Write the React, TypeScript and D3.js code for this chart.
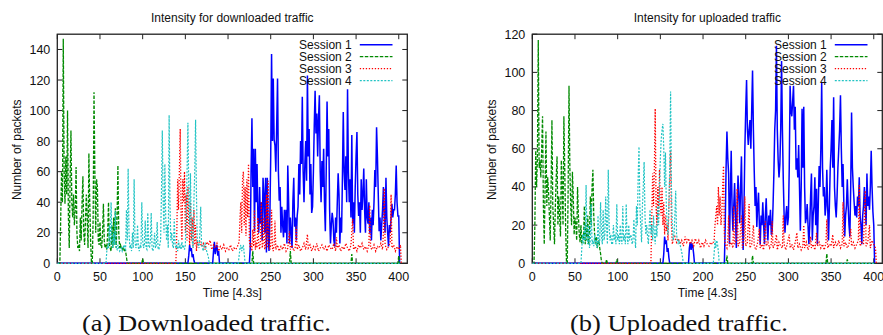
import React from 'react';
import * as d3 from 'd3';

type Pt = [number, number];

const xTicks = [0, 50, 100, 150, 200, 250, 300, 350, 400];
const downYTicks = [0, 20, 40, 60, 80, 100, 120, 140];
const upYTicks = [0, 20, 40, 60, 80, 100, 120];
const sessionNames = ['Session 1', 'Session 2', 'Session 3', 'Session 4'];
const titles = ['Intensity for downloaded traffic', 'Intensity for uploaded traffic'];
const captions = ['(a) Downloaded traffic.', '(b) Uploaded traffic.'];
const xLabel = 'Time [4.3s]';
const yLabel = 'Number of packets';

// ---------- Downloaded traffic ----------
const downS1: Pt[] = [[0,0],[153,0],[154,5],[155,12],[156,8],[157,10],[158,4],[159,6],[160,2],[161,0],[182,0],[183,8],[184,14],[185,6],[186,10],[187,12],[188,5],[189,8],[190,0],[225,0],
[226,10],[227,60],[228,95],[229,50],[230,75],[231,21],[232,75],[233,40],[234,65],[235,30],[236,20],[237,50],[238,26],[239,40],[240,15],[241,56],[242,45],[243,20],[244,56],[245,7],[246,56],[247,20],[248,8],[249,30],[250,70],
[251,137],[252,80],[253,121],[254,81],[255,77],[256,60],[257,90],[258,121],[259,60],[260,41],[261,50],[262,20],[263,37],[264,25],[265,17],[266,35],[267,20],[268,35],[269,13],[270,64],[271,40],[272,13],[273,30],[274,20],[275,10],
[276,41],[277,56],[278,24],[279,30],[280,15],[281,31],[282,37],[283,65],[284,45],[285,80],[286,65],[287,109],[288,60],[289,40],[290,65],[291,80],[292,54],[293,123],[294,70],[295,88],[296,45],[297,65],[298,33],[299,37],[300,60],
[301,90],[302,113],[303,85],[304,98],[305,70],[306,95],[307,110],[308,60],[309,40],[310,67],[311,50],[312,75],[313,40],[314,21],[315,60],[316,106],[317,70],[318,88],[319,35],[320,13],[321,25],[322,33],[323,28],[324,15],[325,11],
[326,30],[327,20],[328,40],[329,59],[330,45],[331,13],[332,30],[333,20],[334,56],[335,99],[336,60],[337,48],[338,70],[339,40],[340,114],[341,60],[342,40],[343,55],[344,30],[345,84],[346,26],[347,40],[348,20],[349,50],[350,70],
[351,86],[352,45],[353,31],[354,40],[355,20],[356,55],[357,35],[358,45],[359,62],[360,35],[361,20],[362,55],[363,30],[364,26],[365,40],[366,20],[367,30],[368,15],[369,35],[370,25],[371,40],[372,61],[373,50],[374,89],[375,70],
[376,45],[377,21],[378,30],[379,15],[380,25],[381,35],[382,50],[383,30],[384,20],[385,56],[386,30],[387,20],[388,11],[389,25],[390,20],[391,30],[392,39],[393,30],[394,35],[395,35],[396,45],[397,64],[398,40],[399,31],[400,31],[401,0]];

const downS2: Pt[] = [[0,0],[3,0],[5,60],[6,40],[7,147],[8,60],[9,39],[10,70],[11,45],[12,100],[13,30],[14,10],[15,55],[16,87],[17,40],[18,30],[19,45],[20,25],[21,35],[22,63],[23,20],[24,10],[25,12],[26,8],[27,30],[28,15],[29,40],[30,57],
[31,20],[32,12],[33,28],[34,45],[35,30],[36,10],[37,72],[38,40],[39,15],[40,0],[41,0],[42,30],[43,112],[44,60],[45,20],[46,55],[47,50],[48,15],[49,12],[50,27],[51,12],[52,10],[53,20],[54,39],[55,15],[56,10],[57,12],[58,9],[59,20],[60,40],
[61,12],[62,10],[63,8],[64,25],[65,10],[66,30],[67,12],[68,36],[69,10],[70,30],[71,64],[72,20],[73,10],[74,12],[75,10],[76,9],[77,10],[78,8],[79,9],[80,8],[81,4],[82,0],[99,0],[100,3],[101,0],[228,0],[229,8],[230,0],[272,0],[273,8],[274,0],
[344,0],[345,6],[346,0],[399,0],[400,5],[401,0]];

const downS3: Pt[] = [[0,0],[138,0],[139,2],[140,20],[141,55],[142,35],[143,60],[144,88],[145,30],[146,15],[147,55],[148,40],[149,60],[150,20],[151,45],[152,15],[153,50],[154,25],[155,12],[156,40],[157,15],[158,30],[159,10],[160,35],
[161,12],[162,25],[163,8],[164,15],[165,12],[167,14],[169,11],[171,13],[173,9],[175,14],[177,12],[179,15],[181,9],[183,12],[185,10],[187,13],[189,8],[191,11],[193,9],[195,12],[197,8],[199,10],[201,9],[203,12],[205,8],[207,10],[209,9],[211,11],
[213,14],[214,30],[215,40],[216,20],[217,55],[218,60],[219,25],[220,50],[221,18],[222,55],[223,30],[224,65],[225,15],[226,10],[227,13],[228,8],[229,22],[230,11],[231,35],[232,9],[233,14],[234,10],[235,30],[236,12],[237,9],[238,15],
[239,40],[240,10],[241,13],[242,30],[243,9],[244,12],[245,45],[246,10],[247,54],[248,14],[249,9],[250,12],[251,35],[252,10],[253,8],[254,12],[255,28],[256,9],[258,12],[260,8],[262,11],[264,9],[266,13],[268,8],[270,10],[272,21],[273,9],
[275,12],[277,8],[279,11],[280,24],[281,9],[283,12],[285,8],[287,10],[289,13],[291,9],[293,19],[294,10],[296,12],[298,8],[300,11],[302,9],[304,13],[306,8],[308,10],[310,12],[312,9],[314,11],[316,8],[318,12],[320,10],[322,9],[324,13],
[326,8],[327,17],[328,10],[330,12],[332,8],[334,11],[336,9],[338,13],[340,10],[342,8],[344,12],[346,29],[347,9],[349,11],[351,8],[353,12],[355,10],[357,13],[359,9],[361,11],[363,8],[365,12],[366,38],[367,10],[369,9],[371,12],[373,8],
[375,11],[377,10],[379,13],[381,9],[382,20],[383,49],[384,12],[386,9],[388,11],[390,14],[391,45],[392,10],[394,12],[396,8],[398,11],[400,9],[402,12],[403,0]];

const downS4: Pt[] = [[0,0],[57,0],[58,8],[59,12],[60,10],[61,25],[62,12],[63,40],[64,15],[65,10],[66,20],[67,12],[68,34],[69,10],[70,9],[71,12],[72,10],[73,8],[74,9],[75,10],[76,8],[77,10],[78,12],[79,10],[80,9],[81,35],[82,15],[83,62],
[84,20],[85,10],[86,12],[87,8],[88,20],[89,10],[90,55],[91,15],[92,10],[93,12],[94,25],[95,10],[96,8],[97,12],[98,10],[99,40],[100,15],[101,10],[102,12],[103,28],[104,10],[105,9],[106,33],[107,12],[108,10],[109,15],[110,33],[111,10],
[112,8],[113,12],[114,20],[115,10],[116,12],[117,27],[118,10],[119,9],[120,12],[121,15],[122,45],[123,87],[124,40],[125,20],[126,65],[127,30],[128,15],[129,25],[130,10],[131,97],[132,39],[133,15],[134,20],[135,12],[136,10],[137,29],
[138,12],[139,10],[140,12],[141,8],[142,15],[143,10],[144,12],[145,9],[146,14],[147,10],[148,11],[149,9],[150,12],[151,30],[152,60],[153,92],[154,50],[155,25],[156,59],[157,20],[158,15],[159,10],[160,40],[161,60],[162,94],[163,45],
[164,15],[165,12],[166,10],[167,20],[168,37],[169,12],[170,10],[171,8],[172,12],[173,13],[174,10],[175,8],[176,6],[177,4],[178,0],[212,0],[213,5],[214,10],[215,12],[216,8],[217,10],[218,12],[219,6],[220,0],[401,0]];

// ---------- Uploaded traffic ----------
const upS1: Pt[] = [[0,0],[153,0],[154,5],[155,14],[156,10],[157,12],[158,6],[159,8],[160,3],[161,0],[183,0],[184,8],[185,11],[186,7],[187,10],[188,9],[189,5],[190,0],[225,0],
[226,20],[227,50],[228,69],[229,55],[230,47],[231,10],[232,35],[233,59],[234,30],[235,17],[236,30],[237,42],[238,25],[239,8],[240,30],[241,46],[242,35],[243,21],[244,40],[245,56],[246,25],[247,7],[248,30],[249,60],[250,80],
[251,96],[252,70],[253,62],[254,70],[255,75],[256,60],[257,80],[258,101],[259,70],[260,48],[261,30],[262,40],[263,19],[264,30],[265,37],[266,20],[267,10],[268,25],[269,20],[270,32],[271,20],[272,10],[273,25],[274,34],[275,20],
[276,12],[277,25],[278,20],[279,28],[280,15],[281,17],[282,30],[283,47],[284,70],[285,80],[286,114],[287,70],[288,54],[289,45],[290,52],[291,70],[292,106],[293,70],[294,44],[295,25],[296,16],[297,25],[298,30],[299,20],[300,24],
[301,50],[302,93],[303,80],[304,77],[305,85],[306,93],[307,70],[308,82],[309,49],[310,55],[311,45],[312,62],[313,40],[314,17],[315,40],[316,81],[317,50],[318,82],[319,40],[320,21],[321,24],[322,31],[323,20],[324,10],[325,20],
[326,35],[327,47],[328,12],[329,25],[330,30],[331,45],[332,20],[333,39],[334,10],[335,30],[336,51],[337,40],[338,60],[339,95],[340,50],[341,35],[342,40],[343,25],[344,30],[345,49],[346,30],[347,12],[348,30],[349,50],[350,60],
[351,75],[352,50],[353,87],[354,40],[355,30],[356,24],[357,35],[358,50],[359,60],[360,70],[361,88],[362,60],[363,40],[364,52],[365,30],[366,14],[367,25],[368,30],[369,44],[370,30],[371,20],[372,14],[373,40],[374,79],[375,50],
[376,40],[377,32],[378,25],[379,30],[380,24],[381,35],[382,30],[383,45],[384,25],[385,20],[386,10],[387,25],[388,30],[389,40],[390,30],[391,20],[392,47],[393,30],[394,35],[395,28],[396,40],[397,59],[398,40],[399,27],[400,20],[401,0]];

const upS2: Pt[] = [[0,0],[2,0],[3,20],[4,59],[5,40],[6,55],[7,117],[8,50],[9,54],[10,45],[11,60],[12,77],[13,30],[14,10],[15,40],[16,69],[17,30],[18,45],[19,38],[20,25],[21,12],[22,40],[23,75],[24,30],[25,20],[26,10],[27,30],[28,45],
[29,56],[30,20],[31,35],[32,25],[33,14],[34,54],[35,40],[36,20],[37,77],[38,50],[39,20],[40,1],[41,0],[42,40],[43,93],[44,50],[45,30],[46,20],[47,48],[48,35],[49,15],[50,24],[51,20],[52,12],[53,40],[54,25],[55,15],[56,11],[57,20],
[58,10],[59,15],[60,12],[61,30],[62,10],[63,20],[64,12],[65,25],[66,10],[67,15],[68,35],[69,20],[70,40],[71,49],[72,25],[73,15],[74,10],[75,14],[76,8],[77,10],[78,12],[79,8],[80,5],[81,1],[82,0],[86,0],[87,2],[88,0],[98,0],[99,2],
[100,0],[227,0],[228,4],[229,0],[257,0],[258,4],[259,0],[344,0],[345,5],[346,0],[368,0],[369,2],[370,0],[401,0]];

const upS3: Pt[] = [[0,0],[138,0],[139,1],[140,25],[141,47],[142,30],[143,50],[144,81],[145,30],[146,20],[147,40],[148,25],[149,49],[150,30],[151,25],[152,40],[153,20],[154,32],[155,15],[156,25],[157,17],[158,20],[159,12],[160,30],
[161,45],[162,59],[163,20],[164,10],[165,12],[167,14],[169,11],[171,13],[173,10],[175,12],[177,9],[179,14],[181,11],[183,13],[185,10],[187,12],[189,9],[191,13],[193,10],[195,12],[197,8],[199,11],[201,9],[203,12],[205,10],[207,9],
[209,11],[211,10],[213,12],[214,20],[215,25],[216,30],[217,20],[218,40],[219,25],[220,35],[221,20],[222,26],[223,40],[224,51],[225,15],[226,10],[228,8],[229,12],[230,25],[231,9],[233,11],[235,8],[236,30],[237,10],[239,12],[240,39],
[241,9],[243,11],[245,25],[246,8],[248,12],[249,35],[250,9],[252,11],[254,31],[255,8],[257,10],[259,20],[260,9],[262,7],[264,11],[266,18],[267,8],[269,10],[271,7],[273,22],[274,9],[276,11],[278,8],[280,10],[281,22],[282,8],[284,10],
[286,15],[287,7],[289,11],[291,9],[293,8],[294,25],[295,10],[297,7],[299,11],[301,15],[302,8],[304,10],[306,7],[308,11],[310,16],[311,8],[313,10],[315,7],[317,9],[318,20],[319,8],[321,11],[323,7],[325,10],[326,14],[327,8],[329,10],
[331,7],[333,16],[334,9],[336,11],[338,8],[340,10],[342,7],[344,11],[345,23],[346,8],[348,10],[350,9],[352,15],[353,8],[355,11],[357,9],[359,12],[361,8],[363,10],[364,32],[365,9],[367,11],[369,8],[371,10],[373,18],[374,9],[376,11],
[378,8],[380,10],[382,12],[383,41],[384,9],[386,11],[388,10],[390,38],[391,9],[393,11],[395,20],[396,8],[398,12],[400,10],[402,8],[403,0]];

const upS4: Pt[] = [[0,0],[57,0],[58,8],[59,15],[60,10],[61,20],[62,12],[63,41],[64,15],[65,10],[66,20],[67,8],[68,12],[69,31],[70,10],[71,12],[72,9],[73,15],[74,10],[75,12],[76,8],[77,25],[78,10],[79,12],[80,32],[81,15],[82,10],
[83,28],[84,12],[85,15],[86,35],[87,20],[88,10],[89,49],[90,20],[91,12],[92,15],[93,10],[94,10],[95,20],[96,12],[97,15],[98,10],[99,31],[100,12],[101,15],[102,10],[103,20],[104,12],[105,10],[106,30],[107,12],[108,15],[109,10],
[110,31],[111,14],[112,10],[113,20],[114,12],[115,15],[116,14],[117,10],[118,12],[119,23],[120,14],[121,8],[122,30],[123,20],[124,45],[125,61],[126,30],[127,20],[128,11],[129,30],[130,40],[131,53],[132,25],[133,15],[134,20],
[135,14],[136,10],[137,20],[138,28],[139,15],[140,20],[141,12],[142,25],[143,15],[144,10],[145,20],[146,14],[147,30],[148,20],[149,40],[150,55],[151,65],[152,70],[153,73],[154,60],[155,40],[156,58],[157,30],[158,20],[159,15],
[160,30],[161,50],[162,90],[163,40],[164,20],[165,12],[166,15],[167,25],[168,38],[169,15],[170,12],[171,10],[172,12],[173,10],[174,8],[175,6],[176,3],[177,0],[212,0],[213,5],[214,12],[215,8],[216,12],[217,10],[218,6],[219,0],[401,0]];

const downSeries = [downS1, downS2, downS3, downS4];
const upSeries = [upS1, upS2, upS3, upS4];

const styles = [
  { color: '#0000ff', dash: undefined as string | undefined, width: 1.5 },
  { color: '#008a00', dash: '3.5,1.5', width: 1.3 },
  { color: '#ff0000', dash: '1.3,1.7', width: 1.3 },
  { color: '#22c4c4', dash: '2,1.5', width: 1.2 },
];

const SANS = '"Liberation Sans", Arial, Helvetica, sans-serif';
const SERIF = '"Liberation Serif", "Times New Roman", serif';

type PanelProps = {
  ox: number;
  yMax: number;
  yTicks: number[];
  series: Pt[][];
  title: string;
  caption: string;
  captionX: number;
  captionWidth: number;
};

function Panel({ ox, yMax, yTicks, series, title, caption, captionX, captionWidth }: PanelProps) {
  const top = 34.2;
  const bottom = 263.3;
  const x = d3.scaleLinear().domain([0, 410]).range([ox, ox + 350]);
  const y = d3.scaleLinear().domain([0, yMax]).range([bottom, top]);
  const line = d3.line<Pt>().x((d) => x(d[0])).y((d) => y(d[1]));
  const cx = ox + 175;
  const right = ox + 350;
  const tl = 5;
  const legendTextX = right - 55.5;
  const legendLineX0 = right - 47.5;
  const legendLineX1 = right - 14.8;
  return (
    <g>
      <text x={cx} y={21.5} textAnchor="middle" fontFamily={SANS} fontSize={12} fill="#111">{title}</text>
      {yTicks.map((t) => (
        <g key={'y' + t}>
          <line x1={ox} x2={ox + tl} y1={y(t)} y2={y(t)} stroke="#222" strokeWidth={1} />
          <line x1={right} x2={right - tl} y1={y(t)} y2={y(t)} stroke="#222" strokeWidth={1} />
          <text x={ox - 7} y={y(t) + 4.5} textAnchor="end" fontFamily={SANS} fontSize={12.5} fill="#111">{t}</text>
        </g>
      ))}
      {xTicks.map((t) => (
        <g key={'x' + t}>
          <line x1={x(t)} x2={x(t)} y1={bottom} y2={bottom - tl} stroke="#222" strokeWidth={1} />
          <line x1={x(t)} x2={x(t)} y1={top} y2={top + tl} stroke="#222" strokeWidth={1} />
          <text x={x(t)} y={281} textAnchor="middle" fontFamily={SANS} fontSize={12.5} fill="#111">{t}</text>
        </g>
      ))}
      <rect x={ox} y={top} width={350} height={bottom - top} fill="none" stroke="#222" strokeWidth={1.3} />
      <text x={cx} y={297} textAnchor="middle" fontFamily={SANS} fontSize={12} fill="#111">{xLabel}</text>
      <text transform={`translate(${ox - 36},${(top + bottom) / 2 + 1}) rotate(-90)`} textAnchor="middle" fontFamily={SANS} fontSize={12} fill="#111">{yLabel}</text>
      {series.map((s, i) => (
        <g key={'s' + i}>
          <text x={legendTextX} y={49 + i * 12} textAnchor="end" fontFamily={SANS} fontSize={12} fill="#111">{sessionNames[i]}</text>
          <line x1={legendLineX0} x2={legendLineX1} y1={44.7 + i * 12} y2={44.7 + i * 12} stroke={styles[i].color} strokeWidth={styles[i].width} strokeDasharray={styles[i].dash} />
          <path d={line(s) || ''} fill="none" stroke={styles[i].color} strokeWidth={styles[i].width} strokeDasharray={styles[i].dash} strokeLinejoin="miter" strokeMiterlimit={4} />
        </g>
      ))}
      <text x={captionX} y={331} textAnchor="start" fontFamily={SERIF} fontSize={24} fill="#111" textLength={captionWidth} lengthAdjust="spacingAndGlyphs">{caption}</text>
    </g>
  );
}

export default function App() {
  return (
    <svg width={883} height={335} viewBox="0 0 883 335" style={{ position: 'absolute', left: 0, top: 0, background: '#fff' }}>
      <rect x={0} y={0} width={883} height={335} fill="#fff" />
      <Panel ox={57.3} yMax={150} yTicks={downYTicks} series={downSeries} title={titles[0]} caption={captions[0]} captionX={82} captionWidth={249} />
      <Panel ox={532.3} yMax={120} yTicks={upYTicks} series={upSeries} title={titles[1]} caption={captions[1]} captionX={570} captionWidth={218} />
    </svg>
  );
}
